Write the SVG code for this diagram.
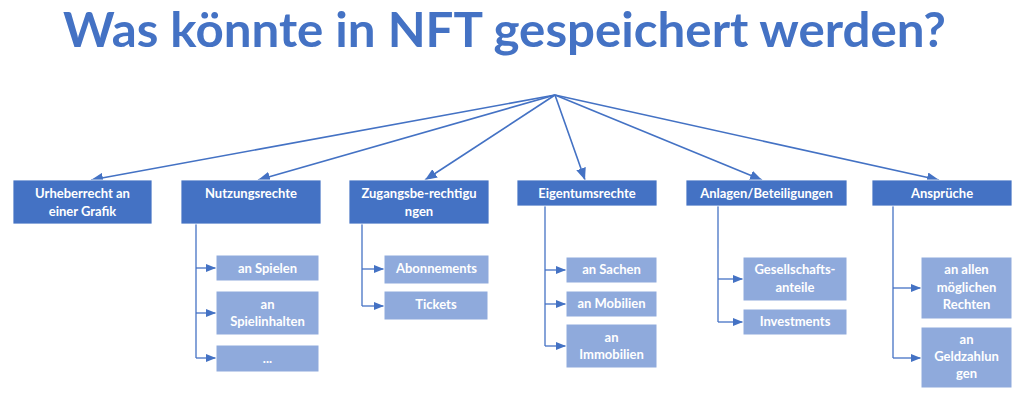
<svg xmlns="http://www.w3.org/2000/svg" width="1024" height="404" viewBox="0 0 1024 404">
<style>
.title{font-family:Lato,"Liberation Sans",sans-serif;font-size:48px;font-weight:bold;fill:#4472C4}
.hd{fill:#4472C4;stroke:#ffffff;stroke-width:0.8}
.ch{fill:#8FAADC;stroke:#ffffff;stroke-width:1}
.t{font-family:Lato,"Liberation Sans",sans-serif;font-size:13px;font-weight:bold;fill:#ffffff;text-anchor:middle}
.ln{fill:none;stroke:#4472C4;stroke-width:1.6}
.sl{fill:none;stroke:#4472C4;stroke-width:1.3}
</style>
<defs>
<marker id="ah" markerUnits="userSpaceOnUse" markerWidth="12" markerHeight="10" viewBox="0 0 12 10" refX="12" refY="5" orient="auto">
<path d="M0,0 L12,5 L0,10 Z" fill="#4472C4"/>
</marker>
<marker id="sa" markerUnits="userSpaceOnUse" markerWidth="10" markerHeight="8" viewBox="0 0 10 8" refX="10" refY="4" orient="auto">
<path d="M0,0 L10,4 L0,8 Z" fill="#4472C4"/>
</marker>
</defs>
<rect width="1024" height="404" fill="#ffffff"/>
<text class="title" x="63" y="47" textLength="883" lengthAdjust="spacingAndGlyphs">Was könnte in NFT gespeichert werden?</text>

<g id="connectors">
<path class="ln" d="M555,95 L91,180" marker-end="url(#ah)"/>
<path class="ln" d="M555,95 L258,180" marker-end="url(#ah)"/>
<path class="ln" d="M555,95 L425,180" marker-end="url(#ah)"/>
<path class="ln" d="M555,95 L585,180" marker-end="url(#ah)"/>
<path class="ln" d="M555,95 L762,180" marker-end="url(#ah)"/>
<path class="ln" d="M555,95 L939,180" marker-end="url(#ah)"/>

<path class="sl" d="M196,224 V358"/>
<path class="sl" d="M196,268 H216" marker-end="url(#sa)"/>
<path class="sl" d="M196,313 H216" marker-end="url(#sa)"/>
<path class="sl" d="M196,358 H216" marker-end="url(#sa)"/>

<path class="sl" d="M362,224 V306"/>
<path class="sl" d="M362,269 H384" marker-end="url(#sa)"/>
<path class="sl" d="M362,306 H384" marker-end="url(#sa)"/>

<path class="sl" d="M545,206 V346"/>
<path class="sl" d="M545,270 H566" marker-end="url(#sa)"/>
<path class="sl" d="M545,304 H566" marker-end="url(#sa)"/>
<path class="sl" d="M545,346 H566" marker-end="url(#sa)"/>

<path class="sl" d="M718,206 V322"/>
<path class="sl" d="M718,279 H743" marker-end="url(#sa)"/>
<path class="sl" d="M718,322 H743" marker-end="url(#sa)"/>

<path class="sl" d="M893,206 V358"/>
<path class="sl" d="M893,288 H921" marker-end="url(#sa)"/>
<path class="sl" d="M893,358 H921" marker-end="url(#sa)"/>
</g>

<g id="urheberrecht">
<rect class="hd" x="13" y="180" width="139" height="44"/>
<text class="t" x="82.5" y="198">Urheberrecht an</text>
<text class="t" x="82.5" y="216">einer Grafik</text>
</g>
<g id="nutzungsrechte">
<rect class="hd" x="181" y="180" width="140" height="44"/>
<text class="t" x="251" y="198">Nutzungsrechte</text>
</g>
<g id="zugangsberechtigungen">
<rect class="hd" x="349" y="180" width="140" height="44"/>
<text class="t" x="419" y="198">Zugangsbe-rechtigu</text>
<text class="t" x="419" y="216">ngen</text>
</g>
<g id="eigentumsrechte">
<rect class="hd" x="517" y="180" width="140" height="26"/>
<text class="t" x="587" y="198">Eigentumsrechte</text>
</g>
<g id="anlagen">
<rect class="hd" x="686" y="180" width="161" height="26"/>
<text class="t" x="766.5" y="198">Anlagen/Beteiligungen</text>
</g>
<g id="ansprueche">
<rect class="hd" x="872" y="180" width="140" height="26"/>
<text class="t" x="942" y="198">Ansprüche</text>
</g>

<g id="an-spielen">
<rect class="ch" x="216" y="255" width="103" height="26"/>
<text class="t" x="267.5" y="273">an Spielen</text>
</g>
<g id="an-spielinhalten">
<rect class="ch" x="216" y="291" width="103" height="44"/>
<text class="t" x="267.5" y="309">an</text>
<text class="t" x="267.5" y="326">Spielinhalten</text>
</g>
<g id="etc">
<rect class="ch" x="216" y="345" width="103" height="27"/>
<text class="t" x="267.5" y="363">...</text>
</g>

<g id="abonnements">
<rect class="ch" x="384" y="255" width="105" height="29"/>
<text class="t" x="436.5" y="273">Abonnements</text>
</g>
<g id="tickets">
<rect class="ch" x="384" y="291" width="104" height="29"/>
<text class="t" x="436" y="309">Tickets</text>
</g>

<g id="an-sachen">
<rect class="ch" x="566" y="257" width="91" height="26"/>
<text class="t" x="611.5" y="274">an Sachen</text>
</g>
<g id="an-mobilien">
<rect class="ch" x="566" y="291" width="91" height="26"/>
<text class="t" x="611.5" y="308">an Mobilien</text>
</g>
<g id="an-immobilien">
<rect class="ch" x="566" y="324" width="91" height="44"/>
<text class="t" x="611.5" y="342">an</text>
<text class="t" x="611.5" y="359">Immobilien</text>
</g>

<g id="gesellschaftsanteile">
<rect class="ch" x="743" y="257" width="104" height="44"/>
<text class="t" x="795" y="274">Gesellschafts-</text>
<text class="t" x="795" y="292">anteile</text>
</g>
<g id="investments">
<rect class="ch" x="743" y="309" width="104" height="26"/>
<text class="t" x="795" y="326">Investments</text>
</g>

<g id="an-allen-rechten">
<rect class="ch" x="921" y="257" width="91" height="62"/>
<text class="t" x="966.5" y="274">an allen</text>
<text class="t" x="966.5" y="292">möglichen</text>
<text class="t" x="966.5" y="309">Rechten</text>
</g>
<g id="an-geldzahlungen">
<rect class="ch" x="921" y="327" width="91" height="61"/>
<text class="t" x="966.5" y="344">an</text>
<text class="t" x="966.5" y="361">Geldzahlun</text>
<text class="t" x="966.5" y="378">gen</text>
</g>
</svg>
